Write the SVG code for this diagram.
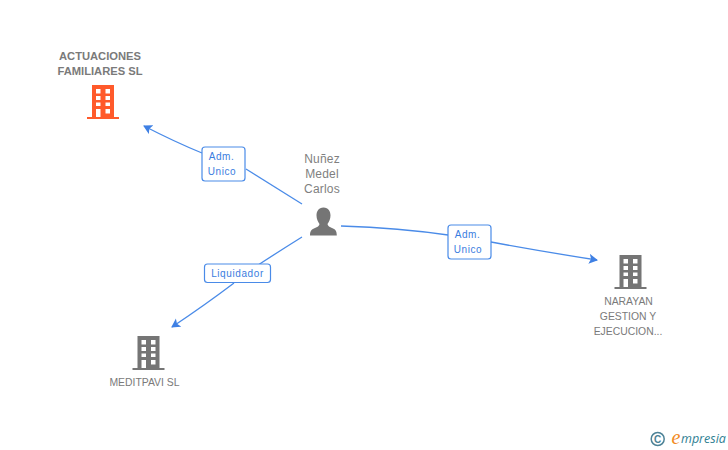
<svg xmlns="http://www.w3.org/2000/svg" width="728" height="450" viewBox="0 0 728 450">
<style>
text{font-family:"Liberation Sans",Arial,sans-serif}
.n{font-size:10.400px;fill:#7a7a7a;text-anchor:middle}
.p{font-size:12px;fill:#7f7f7f;text-anchor:middle;letter-spacing:.2px}
.b{font-size:11.200px;font-weight:bold;fill:#7a7a7a;text-anchor:middle}
.l{font-size:10px;fill:#3a7de0;text-anchor:middle;letter-spacing:.6px}
.box{fill:#fff;stroke:#4a8be8;stroke-width:1.2}
.c{fill:none;stroke:#4a8be8;stroke-width:1.3}
</style>
<defs>
<marker id="a" markerWidth="11" markerHeight="11" refX="8" refY="5" orient="auto" markerUnits="userSpaceOnUse"><path d="M0 0L9 5L0 10L2 5Z" fill="#3f80e4"/></marker>
<path id="bld" fill-rule="evenodd" d="M5 0H27V32H32V34H0V32H5ZM9 4V8.500H13.500V4ZM18.500 4V8.500H23V4ZM9 11V15H13.500V11ZM18.500 11V15H23V11ZM9 17.500V21H13.500V17.500ZM18.500 17.500V21H23V17.500ZM9 24V32H13.500V24ZM18.500 24V28.500H23V24Z"/>
</defs>
<g id="connectors">
<path class="c" d="M302 204Q270 184 246 169"/>
<path class="c" d="M202 153Q175 142 144 126" marker-end="url(#a)"/>
<path class="c" d="M341 226Q400 228 448 235"/>
<path class="c" d="M491 242Q545 252 597 260" marker-end="url(#a)"/>
<path class="c" d="M302 237Q270 257 246 273"/>
<path class="c" d="M234 283Q205 305 172 327" marker-end="url(#a)"/>
</g>
<g id="node-actuaciones">
<text class="b" x="100" y="60">ACTUACIONES</text>
<text class="b" x="100" y="75">FAMILIARES SL</text>
<use href="#bld" x="87" y="85" fill="#ff5a2b"/>
</g>
<g id="node-nunez">
<text class="p" x="322" y="163">Nuñez</text>
<text class="p" x="322" y="178">Medel</text>
<text class="p" x="322" y="193">Carlos</text>
<path fill="#757575" d="M323.500 207.500C328.500 207.500 330.500 211.500 330.500 215.500C330.500 219 329 222 327.500 224C327.500 226 330 227 332 228C335 229 336.800 230.500 336.800 235.500H310C310 230.500 312 229 315 228C317 227 319.500 226 319.500 224C318 222 316.500 219 316.500 215.500C316.500 211.500 318.500 207.500 323.500 207.500Z"/>
</g>
<g id="node-narayan">
<use href="#bld" x="614.500" y="255" fill="#757575"/>
<text class="n" x="628.500" y="305">NARAYAN</text>
<text class="n" x="628" y="320">GESTION Y</text>
<text class="n" x="628" y="335">EJECUCION...</text>
</g>
<g id="node-meditpavi">
<use href="#bld" x="132.500" y="336" fill="#757575"/>
<text class="n" x="144.500" y="386">MEDITPAVI SL</text>
</g>
<g id="label-adm1">
<rect class="box" x="202" y="147" width="43" height="34" rx="3"/>
<text class="l" x="221.500" y="160">Adm.</text>
<text class="l" x="222" y="175">Unico</text>
</g>
<g id="label-adm2">
<rect class="box" x="448" y="225" width="43" height="34" rx="3"/>
<text class="l" x="467.500" y="238">Adm.</text>
<text class="l" x="468" y="253">Unico</text>
</g>
<g id="label-liq">
<rect class="box" x="204.500" y="264" width="66" height="18.500" rx="3"/>
<text class="l" x="237.500" y="277">Liquidador</text>
</g>
<g id="logo">
<circle cx="657.700" cy="439" r="6.500" fill="none" stroke="#4d8296" stroke-width="1.500"/>
<text x="657.700" y="442.500" font-size="10" font-weight="bold" fill="#4d8296" text-anchor="middle">C</text>
<text x="671.500" y="444" font-size="20" font-style="italic" fill="#f28a1e" style="font-family:'Liberation Serif',serif">e</text>
<text x="681" y="443" font-size="12.500" font-style="italic" fill="#2f7f93" style="font-family:'Open Sans',sans-serif">mpresia</text>
</g>
</svg>
